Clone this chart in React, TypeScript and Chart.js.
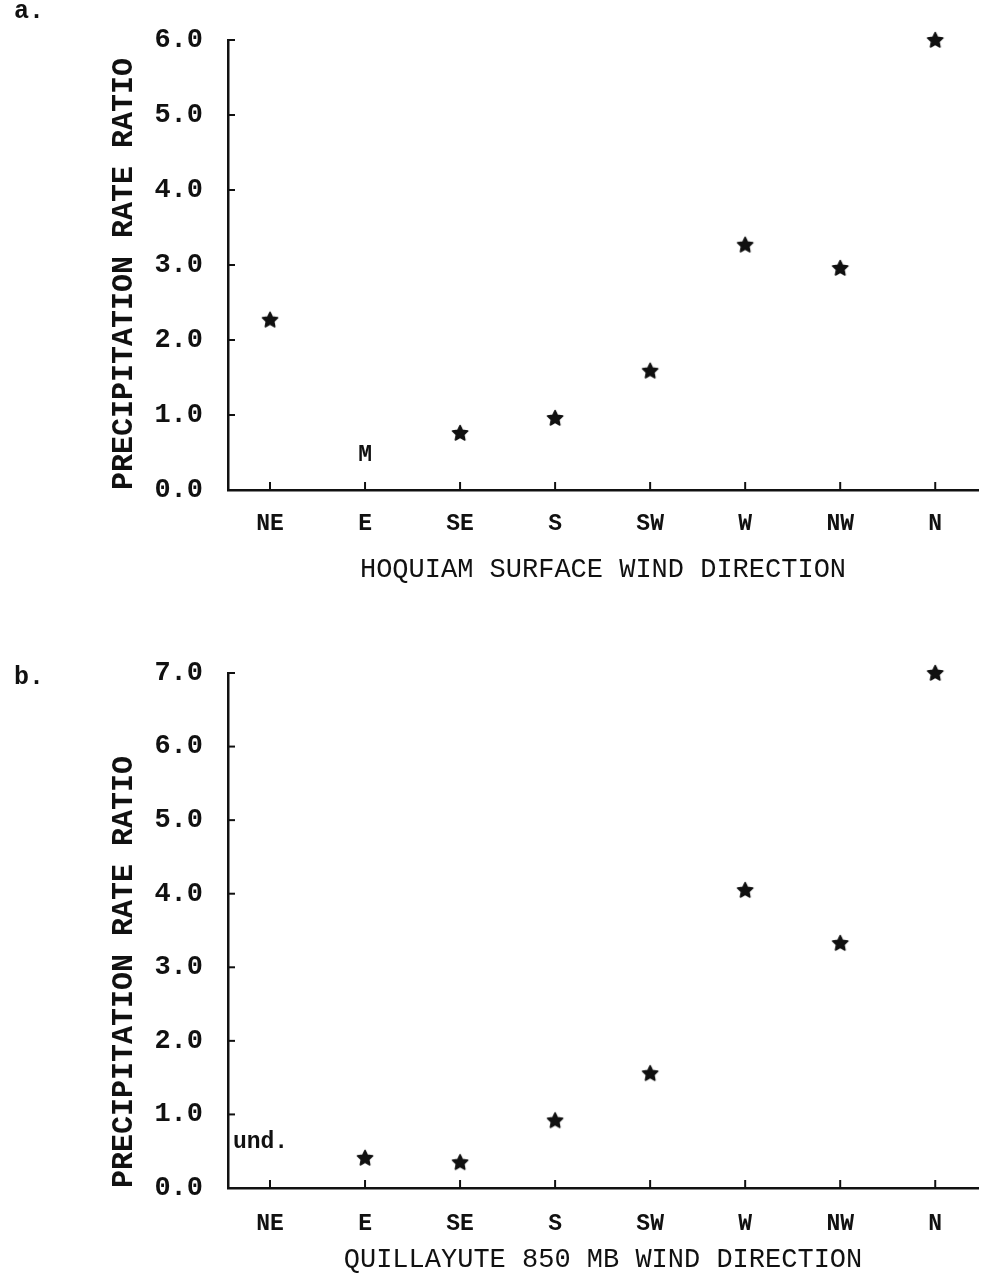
import React, { useEffect, useRef } from "react";
import { Chart, registerables } from "chart.js";

Chart.register(...registerables);

// ---------- data ----------
const DIRECTIONS = ["NE", "E", "SE", "S", "SW", "W", "NW", "N"];
const HOQUIAM_RATIO: (number | null)[] = [2.27, null, 0.76, 0.96, 1.59, 3.27, 2.96, 6.0];
const QUILLAYUTE_RATIO: (number | null)[] = [null, 0.41, 0.35, 0.92, 1.56, 4.05, 3.33, 7.0];
const HOQUIAM_Y_TICKS = [0, 1, 2, 3, 4, 5, 6];
const QUILLAYUTE_Y_TICKS = [0, 1, 2, 3, 4, 5, 6, 7];
const HOQUIAM_NOTES = [{ text: "M", x: 1, y: 0.47 }];
const QUILLAYUTE_NOTES = [{ text: "und.", x: -0.1, y: 0.62 }];
const Y_TITLE = "PRECIPITATION RATE RATIO";
const HOQUIAM_X_TITLE = "HOQUIAM SURFACE WIND DIRECTION";
const QUILLAYUTE_X_TITLE = "QUILLAYUTE 850 MB WIND DIRECTION";

const FONT = "'Liberation Mono', 'DejaVu Sans Mono', monospace";
const INK = "#111";

// filled, heavy star used as the plot marker
function makeStarMarker(): HTMLCanvasElement {
  const size = 20;
  const c = document.createElement("canvas");
  c.width = size;
  c.height = size;
  const g = c.getContext("2d")!;
  const cx = size / 2;
  const cy = size / 2 + 0.5;
  const R = 8;
  const r = 3.9;
  g.beginPath();
  for (let k = 0; k < 10; k++) {
    const ang = -Math.PI / 2 + (k * Math.PI) / 5;
    const rad = k % 2 === 0 ? R : r;
    const px = cx + rad * Math.cos(ang);
    const py = cy + rad * Math.sin(ang);
    if (k === 0) g.moveTo(px, py);
    else g.lineTo(px, py);
  }
  g.closePath();
  g.fillStyle = INK;
  g.strokeStyle = INK;
  g.lineJoin = "round";
  g.lineWidth = 1.6;
  g.fill();
  g.stroke();
  return c;
}

const notesPlugin = {
  id: "panelNotes",
  afterDraw(chart: any, _args: any, opts: any) {
    const { ctx } = chart;
    const x = chart.scales.x;
    const y = chart.scales.y;
    ctx.save();
    ctx.strokeStyle = INK;
    ctx.lineWidth = 2;
    // inward tick marks on y axis
    y.ticks.forEach((t: any) => {
      const py = y.getPixelForValue(t.value);
      ctx.beginPath();
      ctx.moveTo(y.right, py);
      ctx.lineTo(y.right + 7, py);
      ctx.stroke();
    });
    // inward (upward) tick marks on x axis
    x.ticks.forEach((t: any) => {
      const px = x.getPixelForValue(t.value);
      ctx.beginPath();
      ctx.moveTo(px, x.top);
      ctx.lineTo(px, x.top - 8);
      ctx.stroke();
    });
    ctx.fillStyle = INK;
    ctx.textAlign = "center";
    ctx.textBaseline = "middle";
    ctx.font = `bold 23px ${FONT}`;
    (opts.notes || []).forEach((n: any) => {
      ctx.fillText(n.text, x.getPixelForValue(n.x), y.getPixelForValue(n.y));
    });
    ctx.font = `bold 25px ${FONT}`;
    ctx.textAlign = "left";
    ctx.fillText(opts.panel, 14, opts.panelY);
    ctx.restore();
  },
};

type Panel = {
  values: (number | null)[];
  yTicks: number[];
  notes: { text: string; x: number; y: number }[];
  xTitle: string;
  panel: string;
  panelY: number;
  canvasTop: number;
  canvasHeight: number;
  padTop: number;
  xAxisHeight: number;
  xTitlePad: number;
  xLabelPad: number;
};

function zeroPad(s: any) {
  s.paddingLeft = 0;
  s.paddingRight = 0;
  s.paddingTop = 0;
  s.paddingBottom = 0;
}

function buildConfig(p: Panel): any {
  const points = p.values
    .map((v, i) => (v == null ? null : { x: i, y: v }))
    .filter((d) => d !== null);
  return {
    type: "scatter",
    data: {
      datasets: [
        {
          data: points,
          pointStyle: makeStarMarker(),
          pointRadius: 8,
          borderColor: INK,
          backgroundColor: INK,
          clip: false,
        },
      ],
    },
    options: {
      responsive: false,
      animation: false,
      devicePixelRatio: 1,
      layout: { padding: { top: p.padTop, right: 0, left: 0, bottom: 0 } },
      plugins: {
        legend: { display: false },
        tooltip: { enabled: false },
        panelNotes: { notes: p.notes, panel: p.panel, panelY: p.panelY },
      },
      scales: {
        x: {
          type: "linear",
          min: -0.442,
          max: 7.45,
          afterBuildTicks: (s: any) => {
            s.ticks = DIRECTIONS.map((_, i) => ({ value: i }));
          },
          afterFit: (s: any) => {
            s.height = p.xAxisHeight;
            zeroPad(s);
          },
          ticks: {
            callback: (v: any) => DIRECTIONS[Math.round(v)],
            autoSkip: false,
            maxRotation: 0,
            padding: p.xLabelPad,
            color: INK,
            font: { family: FONT, size: 23, weight: "bold" },
          },
          grid: { display: true, drawOnChartArea: false, drawTicks: false },
          border: { display: true, color: INK, width: 2.5 },
          title: {
            display: true,
            text: p.xTitle,
            color: INK,
            font: { family: FONT, size: 27, weight: "normal" },
            padding: { top: 0, bottom: p.xTitlePad },
          },
        },
        y: {
          type: "linear",
          min: p.yTicks[0],
          max: p.yTicks[p.yTicks.length - 1],
          afterBuildTicks: (s: any) => {
            s.ticks = p.yTicks.map((v) => ({ value: v }));
          },
          afterFit: (s: any) => {
            s.width = 228;
            zeroPad(s);
          },
          ticks: {
            callback: (v: any) => Number(v).toFixed(1),
            padding: 25,
            color: INK,
            font: { family: FONT, size: 27, weight: "bold" },
          },
          grid: { display: true, drawOnChartArea: false, drawTicks: false },
          border: { display: true, color: INK, width: 2.5 },
          title: {
            display: true,
            text: Y_TITLE,
            align: "start",
            color: INK,
            font: { family: FONT, size: 30, weight: "bold" },
            padding: { top: 106, bottom: 0 },
          },
        },
      },
    },
    plugins: [notesPlugin],
  };
}

function PanelChart({ panel }: { panel: Panel }) {
  const ref = useRef<HTMLCanvasElement | null>(null);
  useEffect(() => {
    if (!ref.current) return;
    const chart = new Chart(ref.current, buildConfig(panel));
    return () => chart.destroy();
  }, [panel]);
  return (
    <canvas
      ref={ref}
      width={987}
      height={panel.canvasHeight}
      style={{
        position: "absolute",
        left: 0,
        top: panel.canvasTop,
        width: 987,
        height: panel.canvasHeight,
        display: "block",
      }}
    />
  );
}

const PANEL_A: Panel = {
  values: HOQUIAM_RATIO,
  yTicks: HOQUIAM_Y_TICKS,
  notes: HOQUIAM_NOTES,
  xTitle: HOQUIAM_X_TITLE,
  panel: "a.",
  panelY: 12,
  canvasTop: 0,
  canvasHeight: 610,
  padTop: 40,
  xAxisHeight: 120,
  xTitlePad: 24,
  xLabelPad: 20,
};

const PANEL_B: Panel = {
  values: QUILLAYUTE_RATIO,
  yTicks: QUILLAYUTE_Y_TICKS,
  notes: QUILLAYUTE_NOTES,
  xTitle: QUILLAYUTE_X_TITLE,
  panel: "b.",
  panelY: 58,
  canvasTop: 620,
  canvasHeight: 660,
  padTop: 53,
  xAxisHeight: 92,
  xTitlePad: 4,
  xLabelPad: 22,
};

export default function App() {
  return (
    <div
      style={{
        position: "absolute",
        left: 0,
        top: 0,
        width: 987,
        height: 1280,
        background: "#fff",
        overflow: "hidden",
      }}
    >
      <PanelChart panel={PANEL_A} />
      <PanelChart panel={PANEL_B} />
    </div>
  );
}
